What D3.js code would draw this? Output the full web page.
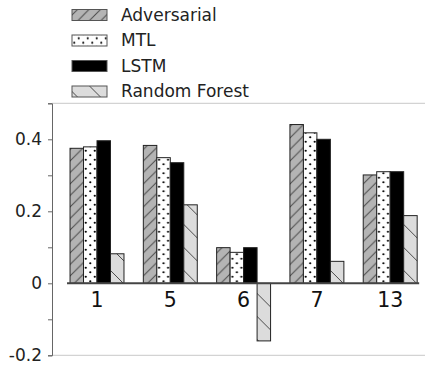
<!DOCTYPE html>
<html>
<head>
<meta charset="utf-8">
<script src="https://cdn.jsdelivr.net/npm/d3@7"></script>
<style>
  body { margin: 0; background: #fff; }
  svg { display: block; font-family: "DejaVu Sans", sans-serif; }
</style>
</head>
<body>
<div id="chart-area"></div>
<script>
const WIDTH = 425;
const HEIGHT = 368;

// data
const groups = ["1", "5", "6", "7", "13"];
const series = ["Adversarial", "MTL", "LSTM", "Random Forest"];
const adversarial = [0.375, 0.383, 0.099, 0.441, 0.301];
const mtl = [0.379, 0.349, 0.086, 0.418, 0.310];
const lstm = [0.396, 0.335, 0.099, 0.400, 0.310];
const randomForest = [0.082, 0.218, -0.160, 0.061, 0.188];
const yTicks = [-0.2, -0.1, 0, 0.1, 0.2, 0.3, 0.4, 0.5];
const yLabels = ["-0.2", "", "0", "", "0.2", "", "0.4", ""];

const values = [adversarial, mtl, lstm, randomForest];
const data = groups.map((g, i) => ({
  group: g,
  bars: series.map((s, j) => ({ key: s, value: values[j][i] }))
}));

const svg = d3.select("#chart-area").append("svg")
  .attr("width", WIDTH)
  .attr("height", HEIGHT);

// patterns
const defs = svg.append("defs");

const pAdv = defs.append("pattern")
  .attr("id", "p-adv")
  .attr("patternUnits", "userSpaceOnUse")
  .attr("width", 11.5).attr("height", 11.5);
pAdv.append("rect").attr("width", 11.5).attr("height", 11.5).attr("fill", "#b4b4b4");
pAdv.append("path")
  .attr("d", "M-1,12.5 L12.5,-1 M-3,3 L3,-3 M8.5,14.5 L14.5,8.5")
  .attr("stroke", "#4a4a4a").attr("stroke-width", 1);

const pMtl = defs.append("pattern")
  .attr("id", "p-mtl")
  .attr("patternUnits", "userSpaceOnUse")
  .attr("width", 9).attr("height", 9);
pMtl.append("rect").attr("width", 9).attr("height", 9).attr("fill", "#fff");
pMtl.append("circle").attr("cx", 2.25).attr("cy", 2.25).attr("r", 1.1).attr("fill", "#000");
pMtl.append("circle").attr("cx", 6.75).attr("cy", 6.75).attr("r", 1.1).attr("fill", "#000");

const pRf = defs.append("pattern")
  .attr("id", "p-rf")
  .attr("patternUnits", "userSpaceOnUse")
  .attr("width", 23).attr("height", 23);
pRf.append("rect").attr("width", 23).attr("height", 23).attr("fill", "#dcdcdc");
pRf.append("path")
  .attr("d", "M-1,-1 L24,24")
  .attr("stroke", "#4a4a4a").attr("stroke-width", 1);

const fills = {
  "Adversarial": "url(#p-adv)",
  "MTL": "url(#p-mtl)",
  "LSTM": "#000",
  "Random Forest": "url(#p-rf)"
};

// scales
const x = d3.scaleBand()
  .domain(groups)
  .range([62.7, 424.5])
  .paddingInner(0.264)
  .paddingOuter(0.1);

const xInner = d3.scaleBand()
  .domain(series)
  .range([0, x.bandwidth()]);

const y = d3.scaleLinear()
  .domain([-0.2, 0.5])
  .range([355.3, 103.3]);

// frame lines
svg.append("line")
  .attr("x1", 52).attr("x2", WIDTH)
  .attr("y1", y(0.5)).attr("y2", y(0.5))
  .attr("stroke", "#c8c8c8").attr("stroke-width", 1);
svg.append("line")
  .attr("x1", 52).attr("x2", WIDTH)
  .attr("y1", y(-0.2)).attr("y2", y(-0.2))
  .attr("stroke", "#c8c8c8").attr("stroke-width", 1);

// y axis
const yAxisGroup = svg.append("g")
  .attr("transform", "translate(52, 0)")
  .call(d3.axisLeft(y)
    .tickValues(yTicks)
    .tickSize(4)
    .tickPadding(6)
    .tickFormat((d, i) => yLabels[i]));
yAxisGroup.select(".domain").attr("stroke", "#666");
yAxisGroup.selectAll(".tick line").attr("stroke", "#666");
yAxisGroup.selectAll(".tick text")
  .attr("font-size", "17px")
  .attr("font-family", "DejaVu Sans")
  .attr("fill", "#222");

// bars
const groupG = svg.selectAll("g.grp").data(data)
  .enter().append("g")
  .attr("class", "grp")
  .attr("transform", d => `translate(${x(d.group)}, 0)`);

groupG.selectAll("rect").data(d => d.bars)
  .enter().append("rect")
  .attr("x", d => xInner(d.key))
  .attr("y", d => y(Math.max(0, d.value)))
  .attr("width", xInner.bandwidth())
  .attr("height", d => Math.abs(y(d.value) - y(0)))
  .attr("fill", d => fills[d.key])
  .attr("stroke", "#222")
  .attr("stroke-width", 1);

// zero line
svg.append("line")
  .attr("x1", x(groups[0]) - 3)
  .attr("x2", x(groups[groups.length - 1]) + x.bandwidth() + 2)
  .attr("y1", y(0)).attr("y2", y(0))
  .attr("stroke", "#444").attr("stroke-width", 2);

// x labels
const xAxisGroup = svg.append("g")
  .attr("transform", `translate(0, ${y(0)})`)
  .call(d3.axisBottom(x).tickSize(0).tickPadding(9));
xAxisGroup.select(".domain").remove();
xAxisGroup.selectAll(".tick text")
  .attr("font-size", "20.5px")
  .attr("font-family", "DejaVu Sans")
  .attr("fill", "#111");

// legend
const legend = svg.selectAll("g.legend").data(series)
  .enter().append("g")
  .attr("class", "legend")
  .attr("transform", (d, i) => `translate(72, ${15 + i * 25.5})`);

legend.append("rect")
  .attr("x", 0).attr("y", -5.5)
  .attr("width", 35).attr("height", 11)
  .attr("fill", d => fills[d])
  .attr("stroke", "#555")
  .attr("stroke-width", 1);

legend.append("text")
  .attr("x", 49)
  .attr("y", 0)
  .attr("dy", "0.35em")
  .attr("font-size", "17px")
  .attr("fill", "#222")
  .text(d => d);
</script>
</body>
</html>
